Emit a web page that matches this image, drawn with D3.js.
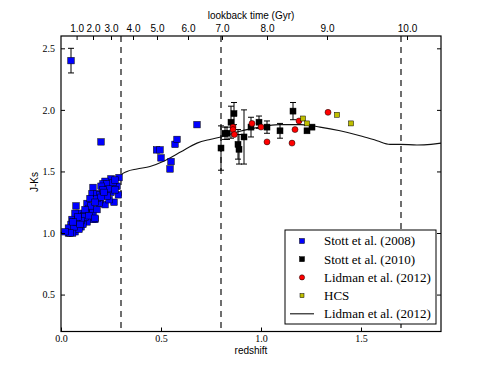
<!DOCTYPE html>
<html>
<head>
<meta charset="utf-8">
<title>J-Ks vs redshift</title>
<script src="https://d3js.org/d3.v7.min.js"></script>
<style>
  body { margin: 0; background: #fff; }
</style>
</head>
<body>
<svg width="491" height="368" id="mainsvg"></svg>
<script>
// Stott et al. (2008) - [redshift, J-Ks]
const stott08 = [
  [0.20,1.74],[0.478,1.675],[0.495,1.675],[0.50,1.61],[0.545,1.52],[0.55,1.58],[0.57,1.72],[0.58,1.76],[0.68,1.88],
  [0.29,1.45],[0.25,1.44],[0.28,1.38],[0.287,1.31],[0.265,1.25],[0.22,1.42],[0.21,1.40],[0.23,1.40],[0.20,1.38],
  [0.25,1.33],[0.16,1.37],[0.155,1.32],[0.18,1.32],[0.195,1.31],[0.22,1.23],[0.195,1.27],[0.19,1.24],[0.13,1.24],
  [0.14,1.20],[0.16,1.17],[0.125,1.16],[0.17,1.11],[0.16,1.11],[0.075,1.22],[0.09,1.16],[0.07,1.16],[0.055,1.11],
  [0.11,1.11],[0.13,1.09],[0.05,1.07],[0.08,1.07],[0.10,1.05],[0.045,1.03],[0.07,1.01],[0.09,1.03],[0.037,1.00],
  [0.058,1.00],[0.11,1.07],[0.24,1.27],[0.24,1.36],[0.145,1.28],[0.115,1.14],[0.083,1.11],[0.037,1.04],
  [0.21,1.35],[0.23,1.30],[0.26,1.41],[0.18,1.28],[0.20,1.29],[0.15,1.22],[0.12,1.13],[0.10,1.10],[0.065,1.05],
  [0.075,1.09],[0.085,1.13],[0.06,1.09],[0.17,1.25],[0.27,1.43],[0.215,1.33],[0.12,1.19],[0.095,1.07],[0.045,1.00],
  [0.14,1.14],[0.18,1.19],[0.27,1.35],[0.17,1.12],[0.02,1.01]
];
// outlier with error bar [z, value, err]
const stott08err = [[0.05,2.40,0.10]];

// Stott et al. (2010) - [redshift, J-Ks, error]
const stott10 = [
  [0.80,1.69,0.18],[0.82,1.81,0.05],[0.83,1.81,0.05],[0.85,1.90,0.13],[0.865,1.97,0.09],
  [0.885,1.72,0.12],[0.89,1.68,0.12],[0.915,1.78,0.22],[0.95,1.86,0.08],[0.99,1.90,0.05],
  [1.03,1.86,0.05],[1.095,1.83,0.06],[1.16,1.99,0.07],[1.23,1.83,0],[1.255,1.86,0]
];

// Lidman et al. (2012) clusters
const lidman = [
  [0.86,1.86],[0.86,1.84],[0.867,1.80],[0.955,1.89],[1.00,1.86],[1.03,1.74],
  [1.155,1.73],[1.17,1.84],[1.19,1.91],[1.335,1.98]
];

// HCS
const hcs = [[1.21,1.93],[1.23,1.89],[1.38,1.96],[1.45,1.89]];

// Lidman et al. (2012) model line
const modelZ = [0, 0.05, 0.11, 0.195, 0.28, 0.30, 0.33, 0.38, 0.445, 0.51, 0.545, 0.60, 0.68, 0.745, 0.80, 0.88, 0.96, 1.03, 1.095, 1.20, 1.295, 1.395, 1.495, 1.58, 1.645, 1.695, 1.78, 1.85, 1.90];
const modelV = [1.00, 1.07, 1.16, 1.28, 1.42, 1.47, 1.50, 1.52, 1.54, 1.58, 1.61, 1.66, 1.73, 1.76, 1.78, 1.82, 1.85, 1.87, 1.88, 1.88, 1.86, 1.83, 1.79, 1.75, 1.72, 1.72, 1.715, 1.72, 1.73];

const dashedZ = [0.3, 0.8, 1.7];
const xTicks = [0, 0.5, 1.0, 1.5];
const yTicks = [0.5, 1.0, 1.5, 2.0, 2.5];
// lookback time labels and where they sit in redshift
const lookbackLabels = ["1.0","2.0","3.0","4.0","5.0","6.0","7.0","8.0","9.0","10.0"];
const lookbackZ = [0.078, 0.16, 0.25, 0.36, 0.48, 0.635, 0.805, 1.03, 1.33, 1.73];

const svg = d3.select('#mainsvg');
const L = 61, R = 441, T = 36, B = 331.5;
const x = d3.scaleLinear().domain([0, 1.9]).range([L, R]);
const y = d3.scaleLinear().domain([0.2, 2.6]).range([B, T]);
const serif = "'Liberation Serif', 'Times New Roman', serif";
const sans = "'Liberation Sans', Arial, sans-serif";

// dashed verticals
svg.append("g").selectAll("line").data(dashedZ).join("line")
  .attr("x1", d => x(d)).attr("x2", d => x(d))
  .attr("y1", T).attr("y2", B)
  .attr("stroke", "#222").attr("stroke-width", 1.3)
  .attr("stroke-dasharray", "6,5");

// model line
const line = d3.line().x(d => x(d[0])).y(d => y(d[1])).curve(d3.curveMonotoneX);
svg.append("path")
  .datum(modelZ.map((z, i) => [z, modelV[i]]))
  .attr("d", line)
  .attr("fill", "none").attr("stroke", "#111").attr("stroke-width", 1.1);

// error bars
function errBars(data, w) {
  const g = svg.append("g").attr("stroke", "#000").attr("stroke-width", 1);
  data.filter(d => d[2] > 0).forEach(d => {
    g.append("line").attr("x1", x(d[0])).attr("x2", x(d[0]))
      .attr("y1", y(d[1] - d[2])).attr("y2", y(d[1] + d[2]));
    [d[1] - d[2], d[1] + d[2]].forEach(v => {
      g.append("line").attr("x1", x(d[0]) - w).attr("x2", x(d[0]) + w)
        .attr("y1", y(v)).attr("y2", y(v));
    });
  });
}
errBars(stott08err, 3);
errBars(stott10, 3);

function squares(data, s, fill) {
  svg.append("g").selectAll("rect").data(data).join("rect")
    .attr("x", d => x(d[0]) - s / 2).attr("y", d => y(d[1]) - s / 2)
    .attr("width", s).attr("height", s)
    .attr("fill", fill).attr("stroke", "#000").attr("stroke-width", 0.5);
}
squares(stott08, 6.5, "#0000ff");
squares(stott08err, 6.5, "#0000ff");
squares(stott10, 6, "#000");
svg.append("g").selectAll("circle").data(lidman).join("circle")
  .attr("cx", d => x(d[0])).attr("cy", d => y(d[1])).attr("r", 3)
  .attr("fill", "#ff0000").attr("stroke", "#000").attr("stroke-width", 0.5);
squares(hcs, 5, "#bfbf00");

// axes
const ax = svg.append("g");
ax.append("g").attr("transform", `translate(0,${B})`)
  .call(d3.axisBottom(x).tickValues(xTicks).tickFormat(d3.format(".1f")).tickSize(-4).tickPadding(3));
ax.append("g").attr("transform", `translate(${L},0)`)
  .call(d3.axisLeft(y).tickValues(yTicks).tickFormat(d3.format(".1f")).tickSize(-4).tickPadding(6));
ax.append("g").attr("transform", `translate(${R},0)`)
  .call(d3.axisRight(y).tickValues(yTicks).tickFormat("").tickSize(-4));
const topAxis = ax.append("g").attr("transform", `translate(0,${T})`)
  .call(d3.axisTop(x).tickValues(lookbackZ).tickFormat((d, i) => lookbackLabels[i]).tickSize(-4).tickPadding(4));
ax.selectAll(".domain").remove();
ax.selectAll("text").attr("font-family", serif).attr("font-size", 10).attr("fill", "#000");
topAxis.selectAll("text").attr("font-family", sans).attr("font-size", 10);
ax.selectAll(".tick line").attr("stroke", "#000");

svg.append("rect").attr("x", L).attr("y", T).attr("width", R - L).attr("height", B - T)
  .attr("fill", "none").attr("stroke", "#000").attr("stroke-width", 1.2);

// axis titles
svg.append("text").attr("x", 251).attr("y", 19).attr("text-anchor", "middle")
  .attr("font-family", sans).attr("font-size", 10).text("lookback time (Gyr)");
svg.append("text").attr("x", 251).attr("y", 354).attr("text-anchor", "middle")
  .attr("font-family", sans).attr("font-size", 10).text("redshift");
svg.append("text").attr("transform", "translate(38,182) rotate(-90)").attr("text-anchor", "middle")
  .attr("font-family", sans).attr("font-size", 10).text("J-Ks");

// legend
const legendItems = [
  { label: "Stott et al. (2008)", type: "sq", color: "#0000ff", s: 5 },
  { label: "Stott et al. (2010)", type: "sq", color: "#000", s: 5 },
  { label: "Lidman et al. (2012)", type: "ci", color: "#ff0000", s: 5 },
  { label: "HCS", type: "sq", color: "#bfbf00", s: 4 },
  { label: "Lidman et al. (2012)", type: "ln", color: "#111" }
];
const lg = svg.append("g").attr("transform", "translate(285,230)");
lg.append("rect").attr("width", 151).attr("height", 94).attr("fill", "#fff")
  .attr("stroke", "#000").attr("stroke-width", 1);
legendItems.forEach((d, i) => {
  const cy = 11 + i * 18.2;
  if (d.type === "sq") {
    lg.append("rect").attr("x", 17 - d.s / 2).attr("y", cy - d.s / 2).attr("width", d.s).attr("height", d.s)
      .attr("fill", d.color).attr("stroke", "#000").attr("stroke-width", 0.5);
  } else if (d.type === "ci") {
    lg.append("circle").attr("cx", 17).attr("cy", cy).attr("r", 2.6)
      .attr("fill", d.color).attr("stroke", "#000").attr("stroke-width", 0.5);
  } else {
    lg.append("line").attr("x1", 5).attr("x2", 29).attr("y1", cy).attr("y2", cy)
      .attr("stroke", d.color).attr("stroke-width", 1.1);
  }
  lg.append("text").attr("x", 39).attr("y", cy + 4.3)
    .attr("font-family", serif).attr("font-size", 13).text(d.label);
});
</script>
</body>
</html>
